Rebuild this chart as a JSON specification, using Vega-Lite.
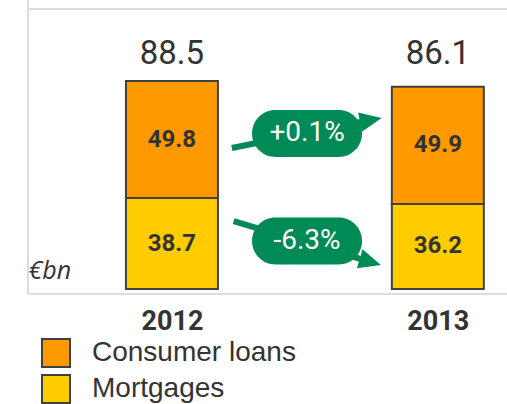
{
  "$schema": "https://vega.github.io/schema/vega-lite/v6.json",
  "autosize": "none",
  "padding": {"left": 23, "top": 9, "right": 0, "bottom": 110},
  "width": 484,
  "height": 285,
  "background": "white",
  "config": {
    "view": {"stroke": null},
    "font": "Roboto"
  },
  "datasets": {
    "bars": [
      {"year": 2012, "series": "Consumer loans", "value": 49.8},
      {"year": 2012, "series": "Mortgages", "value": 38.7},
      {"year": 2013, "series": "Consumer loans", "value": 49.9},
      {"year": 2013, "series": "Mortgages", "value": 36.2}
    ],
    "totals": [
      {"year": 2012, "total": "88.5"},
      {"year": 2013, "total": "86.1"}
    ],
    "changes": [
      {"series": "Consumer loans", "label": "+0.1%", "xs": 2012.225, "ys": 60.0, "xe": 2012.748, "ye": 71.9, "xm": 2012.508, "ym": 66.2},
      {"series": "Mortgages", "label": "-6.3%", "xs": 2012.232, "ys": 28.9, "xe": 2012.746, "ye": 11.5, "xm": 2012.508, "ym": 20.4}
    ],
    "frame": [{"x0": 2011.4586, "x1": 2013.3, "ybot": -2.13, "ytop": 119.15, "yext": 123}]
  },
  "layer": [
    {
      "data": {"name": "frame"},
      "mark": {"type": "rule", "color": "#DDDDDD", "strokeWidth": 2},
      "encoding": {"x": {"field": "x0", "type": "quantitative"}, "y": {"field": "ybot", "type": "quantitative"}, "y2": {"field": "yext"}}
    },
    {
      "data": {"name": "frame"},
      "mark": {"type": "rule", "color": "#DDDDDD", "strokeWidth": 2},
      "encoding": {"y": {"field": "ytop", "type": "quantitative"}, "x": {"field": "x0", "type": "quantitative"}, "x2": {"field": "x1"}}
    },
    {
      "data": {"name": "frame"},
      "mark": {"type": "rule", "color": "#DDDDDD", "strokeWidth": 2},
      "encoding": {"y": {"field": "ybot", "type": "quantitative"}, "x": {"field": "x0", "type": "quantitative"}, "x2": {"field": "x1"}}
    },
    {
      "data": {"name": "bars"},
      "mark": {"type": "bar", "width": 92, "stroke": "#404040", "strokeWidth": 2, "opacity": 1},
      "encoding": {
        "x": {
          "field": "year", "type": "quantitative",
          "scale": {"domain": [2011.4586, 2013.2413], "nice": false, "zero": false},
          "axis": {
            "values": [2012, 2013], "format": "d", "title": null,
            "domain": false, "ticks": false, "grid": false,
            "labelFont": "Roboto", "labelFontWeight": "bold",
            "labelFontSize": 27, "labelColor": "#333333", "labelPadding": 14,
            "labelFlush": false, "labelOverlap": false
          }
        },
        "y": {
          "field": "value", "type": "quantitative", "stack": "zero",
          "scale": {"domain": [-2.13, 119.15], "nice": false, "zero": false},
          "axis": {
            "title": "€bn", "titleAngle": 0, "titleAlign": "left", "titleBaseline": "alphabetic",
            "titleX": 5, "titleY": 269, "titleFont": "Open Sans", "titleFontStyle": "italic",
            "titleFontWeight": "normal", "titleFontSize": 25, "titleColor": "#333333",
            "domain": false, "ticks": false, "labels": false, "grid": false
          }
        },
        "color": {
          "field": "series", "type": "nominal",
          "scale": {"domain": ["Consumer loans", "Mortgages"], "range": ["#FF9900", "#FFCC00"]},
          "legend": {
            "orient": "none", "legendX": 18, "legendY": 329, "title": null,
            "padding": 0, "symbolType": "square", "symbolSize": 784,
            "symbolStrokeColor": "#404040", "symbolStrokeWidth": 2, "symbolOpacity": 1,
            "labelFont": "Liberation Sans", "labelFontSize": 28, "labelColor": "#333333",
            "labelOffset": 21, "rowPadding": 0, "labelLimit": 400
          }
        },
        "order": {"field": "series", "sort": "descending"}
      }
    },
    {
      "data": {"name": "bars"},
      "transform": [
        {"stack": "value", "groupby": ["year"], "sort": [{"field": "series", "order": "descending"}], "as": ["v0", "v1"]},
        {"calculate": "(datum.v0 + datum.v1) / 2", "as": "mid"}
      ],
      "mark": {"type": "text", "font": "Roboto", "fontWeight": "bold", "fontSize": 24, "color": "#333333", "baseline": "middle", "align": "center"},
      "encoding": {
        "x": {"field": "year", "type": "quantitative"},
        "y": {"field": "mid", "type": "quantitative"},
        "text": {"field": "value", "type": "quantitative", "format": ".1f"}
      }
    },
    {
      "data": {"name": "totals"},
      "mark": {"type": "text", "font": "Roboto", "fontSize": 33, "color": "#333333", "baseline": "alphabetic", "align": "center"},
      "encoding": {
        "x": {"field": "year", "type": "quantitative"},
        "y": {"datum": 95.7},
        "text": {"field": "total", "type": "nominal"}
      }
    },
    {
      "data": {"name": "changes"},
      "mark": {"type": "rule", "color": "#008A55", "strokeWidth": 6},
      "encoding": {
        "x": {"field": "xs", "type": "quantitative"},
        "y": {"field": "ys", "type": "quantitative"},
        "x2": {"field": "xe"},
        "y2": {"field": "ye"}
      }
    },
    {
      "data": {"name": "changes"},
      "mark": {"type": "point", "shape": "M -1,-0.9 L 1,0 L -1,0.9 Z", "filled": true, "color": "#008A55", "opacity": 1, "size": 484},
      "encoding": {
        "x": {"field": "xe", "type": "quantitative"},
        "y": {"field": "ye", "type": "quantitative"},
        "angle": {"field": "series", "type": "nominal", "scale": {"domain": ["Consumer loans", "Mortgages"], "range": [-11, 16.5]}, "legend": null}
      }
    },
    {
      "data": {"name": "changes"},
      "mark": {"type": "point", "shape": "M -0.573,-0.427 L 0.573,-0.427 A 0.427,0.427 0 0 1 0.573,0.427 L -0.573,0.427 A 0.427,0.427 0 0 1 -0.573,-0.427 Z", "filled": true, "color": "#008A55", "opacity": 1, "size": 12100},
      "encoding": {
        "x": {"field": "xm", "type": "quantitative"},
        "y": {"field": "ym", "type": "quantitative"}
      }
    },
    {
      "data": {"name": "changes"},
      "mark": {"type": "text", "font": "Roboto", "fontSize": 28, "color": "white", "baseline": "middle", "align": "center"},
      "encoding": {
        "x": {"field": "xm", "type": "quantitative"},
        "y": {"field": "ym", "type": "quantitative"},
        "text": {"field": "label", "type": "nominal"}
      }
    }
  ]
}
